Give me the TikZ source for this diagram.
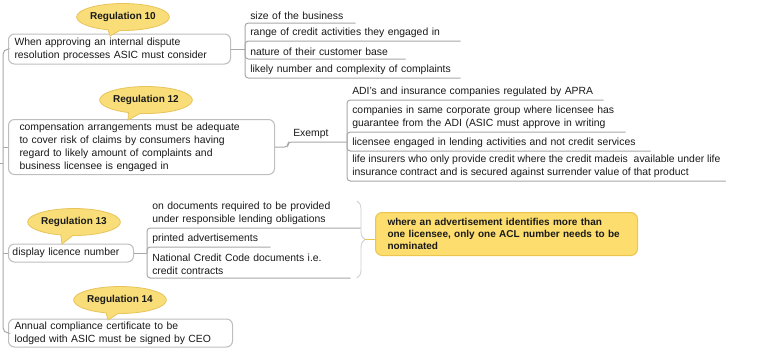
\documentclass[tikz,border=0pt]{standalone}
\usepackage{fontspec}
\setmainfont{Liberation Sans}
\usetikzlibrary{shapes.callouts,decorations.pathreplacing}

\definecolor{linegray}{RGB}{168,168,168}
\definecolor{boxgray}{RGB}{190,190,190}
\definecolor{bracegray}{RGB}{205,205,205}
\definecolor{regfill}{RGB}{248,221,120}
\definecolor{regdraw}{RGB}{232,196,90}
\definecolor{notefill}{RGB}{252,221,110}
\definecolor{notedraw}{RGB}{236,196,80}
\definecolor{txt}{RGB}{25,25,25}

\begin{document}
\begin{tikzpicture}[x=0.75pt,y=0.75pt,yscale=-1,xscale=1,
  topic/.style={draw=boxgray,line width=0.75pt,rounded corners=4.5pt,fill=white,anchor=west,align=left,inner xsep=4.5pt,inner ysep=1pt,text=txt,font=\fontsize{7.8}{9.75}\selectfont},
  sub/.style={anchor=south west,align=left,inner xsep=3.75pt,inner ysep=2.4pt,text=txt,font=\fontsize{7.8}{9.75}\selectfont},
  branch/.style={draw=linegray,line width=0.75pt,rounded corners=2.5pt},
  regbubble/.style={ellipse callout,draw=regdraw,fill=regfill,line width=0.6pt,inner sep=0pt,minimum width=69pt,minimum height=20.25pt,text=txt,font=\fontsize{7.5}{9}\selectfont\bfseries},
  notebox/.style={draw=notedraw,fill=notefill,line width=0.75pt,rounded corners=5pt,anchor=west,align=left,inner xsep=9pt,inner ysep=1pt,text=txt,font=\fontsize{7.5}{9}\selectfont\bfseries}]
\useasboundingbox (0,0) rectangle (761,351);

%Shape: Rounded Rect
\node[topic,text width=157.5pt,minimum height=22.5pt] (t1) at (8,49) {When approving an internal dispute\\resolution processes ASIC must consider};
%Shape: Rounded Rect
\node[topic,text width=183pt,inner xsep=8.25pt,minimum height=41.25pt] (t2) at (8,147) {compensation arrangements must be adequate\\to cover risk of claims by consumers having\\regard to likely amount of complaints and\\business licensee is engaged in};
%Shape: Rounded Rect
\node[topic,text width=87.75pt,inner xsep=3pt,minimum height=13.5pt] (t3) at (8,253) {display licence number};
%Shape: Rounded Rect
\node[topic,text width=159pt,minimum height=21pt] (t4) at (8,333) {Annual compliance certificate to be\\lodged with ASIC must be signed by CEO};

%Straight Lines
\coordinate (root) at (3,163);
\coordinate (rootin) at (0,163);
\draw[branch,rounded corners=4pt] (t1.west) -| (root) |- (t4.west);
\draw[branch] (root) -- (rootin);
\draw[branch] (t2.west -| root) -- (t2.west);
\draw[branch] (t3.west -| root) -- (t3.west);

% Text Node
\node[sub,text width=75pt] (s1) at (245,23) {size of the business};
% Text Node
\node[sub,text width=153.75pt] (s2) at (245,41) {range of credit activities they engaged in};
% Text Node
\node[sub,text width=112.5pt] (s3) at (245,59) {nature of their customer base};
% Text Node
\node[sub,text width=153.75pt] (s4) at (245,78) {likely number and complexity of complaints};
%Straight Lines
\coordinate (j1) at (245,49);
\draw[branch] (t1.east) -- (j1);
\foreach \s in {s1,s2,s3,s4} \draw[branch] (j1) |- (\s.south east);

% Text Node
\node[sub] (ex) at (288,142) {Exempt};
%Straight Lines
\coordinate (c2) at (288,147);
\coordinate (je) at (347,142);
\draw[branch] (t2.east) -- (c2) |- (je);

% Text Node
\node[sub,text width=184.5pt] (e1) at (347,100) {ADI's and insurance companies regulated by APRA};
% Text Node
\node[sub,text width=201pt] (e2) at (347,132) {companies in same corporate group where licensee has\\guarantee from the ADI (ASIC must approve in writing};
% Text Node
\node[sub,text width=219.75pt] (e3) at (347,151) {licensee engaged in lending activities and not credit services};
% Text Node
\node[sub] (e4) at (347,181) {life insurers who only provide credit where the credit madeis\ \ available under life\\insurance contract and is secured against surrender value of that product};
%Straight Lines
\foreach \s in {e1,e2,e3,e4} \draw[branch] (je) |- (\s.south east);

% Text Node
\node[sub,text width=152.25pt] (q1) at (147,228) {on documents required to be provided\\under responsible lending obligations};
% Text Node
\node[sub,text width=84.75pt] (q2) at (147,247) {printed advertisements};
% Text Node
\node[sub,text width=144.75pt] (q3) at (147,278) {National Credit Code documents i.e.\\credit contracts};
%Straight Lines
\coordinate (j3) at (147,253);
\draw[branch] (t3.east) -- (j3);
\foreach \s in {q1,q2,q3} \draw[branch] (j3) |- (\s.south east);

%Shape: Brace
\coordinate (bt0) at (357,201);
\coordinate (bt1) at (357,278);
\coordinate (bt) at (365,239.5);
\draw[bracegray,line width=0.6pt,decorate,decoration={brace,amplitude=6pt}] (bt0) -- (bt1);
%Shape: Rounded Rect
\node[notebox,text width=178.5pt,minimum height=32.25pt] (adv) at (375,234) {where an advertisement identifies more than\\one licensee, only one ACL number needs to be\\nominated};
%Straight Lines
\draw[notedraw,line width=0.75pt] (bt) -- (bt -| adv.west);

%Shape: Ellipse Callout
\coordinate (p10) at (110,36);
\node[regbubble,callout absolute pointer={(p10)}] (r10) at (123,17) {Regulation 10};
%Shape: Ellipse Callout
\coordinate (p12) at (128,120);
\node[regbubble,callout absolute pointer={(p12)}] (r12) at (146,100) {Regulation 12};
%Shape: Ellipse Callout
\coordinate (p13) at (62,244);
\node[regbubble,callout absolute pointer={(p13)}] (r13) at (74,222) {Regulation 13};
%Shape: Ellipse Callout
\coordinate (p14) at (108,320);
\node[regbubble,callout absolute pointer={(p14)}] (r14) at (120,300) {Regulation 14};
\end{tikzpicture}
\end{document}
